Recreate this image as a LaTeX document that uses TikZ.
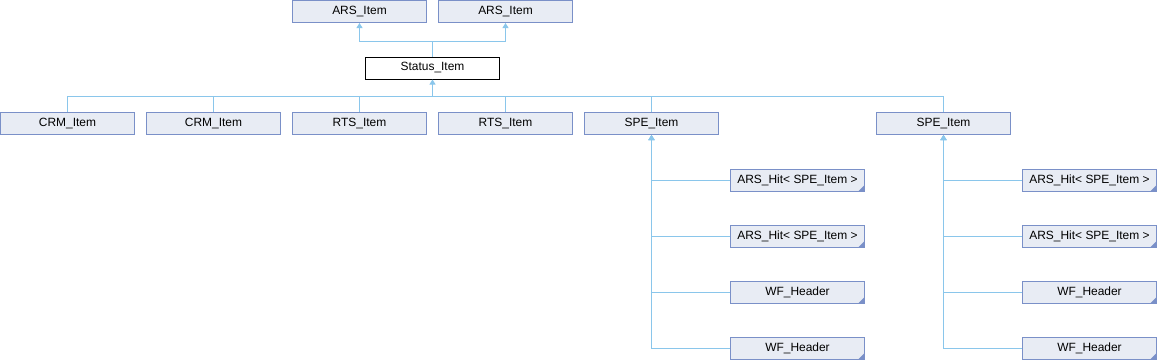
\documentclass[tikz,border=0pt]{standalone}
\usepackage{fontspec}
\setmainfont{Liberation Sans}
\usepackage{xcolor}
\definecolor{boxborder}{RGB}{122,144,200}
\definecolor{boxfill}{RGB}{232,236,244}
\definecolor{linkblue}{RGB}{138,198,235}
\usetikzlibrary{arrows.meta, positioning, calc}

\begin{document}
\begin{tikzpicture}[
    x=1bp, y=-1bp,
    classbox/.style={
        rectangle, draw=boxborder, fill=boxfill, line width=1bp,
        minimum width=134bp, minimum height=22bp, inner sep=0pt,
        font=\fontsize{12}{14}\selectfont
    },
    mainbox/.style={
        classbox, draw=black, fill=white
    },
    truncbox/.style={
        classbox,
        path picture={
            \fill[boxborder] ([xshift=-6bp]path picture bounding box.south east)
                -- (path picture bounding box.south east)
                -- ([yshift=6bp]path picture bounding box.south east) -- cycle;
        }
    },
    inheritarrow/.style={
        -{Triangle[length=5bp, width=6bp]}, line width=1bp, color=linkblue
    },
    link/.style={
        line width=1bp, color=linkblue
    }
]
\useasboundingbox (0,0) rectangle (1158,360);

% Nodes
\node[classbox] (arsA) at (359.5,11.5) {ARS\_Item};
\node[classbox] (arsB) at (505.5,11.5) {ARS\_Item};
\node[mainbox] (status) at (432.5,68) {Status\_Item};

\node[classbox] (crmA) at (67.5,123.5) {CRM\_Item};
\node[classbox] (crmB) at (213.5,123.5) {CRM\_Item};
\node[classbox] (rtsA) at (359.5,123.5) {RTS\_Item};
\node[classbox] (rtsB) at (505.5,123.5) {RTS\_Item};
\node[classbox] (speA) at (651.5,123.5) {SPE\_Item};
\node[classbox] (speB) at (943.5,123.5) {SPE\_Item};

\node[truncbox] (hitA) at (797.5,180) {ARS\_Hit< SPE\_Item >};
\node[truncbox] (hitB) at (797.5,236) {ARS\_Hit< SPE\_Item >};
\node[truncbox] (wfA) at (797.5,292) {WF\_Header};
\node[truncbox] (wfB) at (797.5,348) {WF\_Header};

\node[truncbox] (hitC) at (1089.5,180) {ARS\_Hit< SPE\_Item >};
\node[truncbox] (hitD) at (1089.5,236) {ARS\_Hit< SPE\_Item >};
\node[truncbox] (wfC) at (1089.5,292) {WF\_Header};
\node[truncbox] (wfD) at (1089.5,348) {WF\_Header};

\coordinate (topjoin) at (432.5,41);
\coordinate (rowjoin) at (432.5,96);

% Connections
\draw[link] (status.north) -- (topjoin);
\draw[inheritarrow] (topjoin) -| (arsA.south);
\draw[inheritarrow] (topjoin) -| (arsB.south);

\foreach \kid in {crmA, crmB, rtsA, rtsB, speA, speB}
    \draw[link] (\kid.north) |- (rowjoin);
\draw[inheritarrow] (rowjoin) -- (status.south);

\foreach \kid in {hitA, hitB, wfA, wfB}
    \draw[inheritarrow] (\kid.west) -| (speA.south);
\foreach \kid in {hitC, hitD, wfC, wfD}
    \draw[inheritarrow] (\kid.west) -| (speB.south);

\end{tikzpicture}
\end{document}
